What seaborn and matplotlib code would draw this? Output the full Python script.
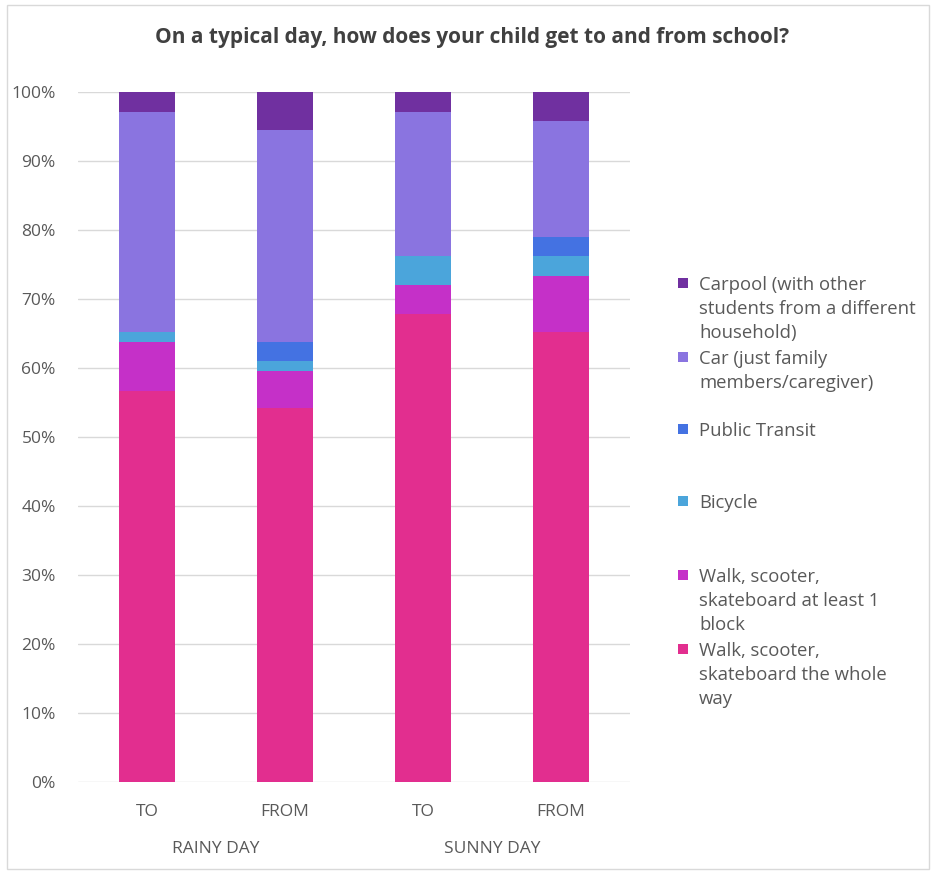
import matplotlib
matplotlib.use("Agg")
import matplotlib.pyplot as plt
import seaborn as sns
import pandas as pd
import numpy as np
from matplotlib.patches import Rectangle
from matplotlib.ticker import PercentFormatter
import matplotlib.transforms as mtransforms

# data (percent of responses)
bar_keys = ["RAINY TO", "RAINY FROM", "SUNNY TO", "SUNNY FROM"]
bar_labels = ["TO", "FROM", "TO", "FROM"]
group_labels = ["RAINY DAY", "SUNNY DAY"]
walk_whole = [56.7, 54.2, 67.8, 65.2]
walk_part = [7.0, 5.3, 4.3, 8.2]
bicycle = [1.5, 1.5, 4.2, 2.9]
transit = [0.0, 2.7, 0.0, 2.7]
car = [31.9, 30.8, 20.8, 16.8]
carpool = [2.9, 5.5, 2.9, 4.2]

series_names = [
    "Walk, scooter,\nskateboard the whole\nway",
    "Walk, scooter,\nskateboard at least 1\nblock",
    "Bicycle",
    "Public Transit",
    "Car (just family\nmembers/caregiver)",
    "Carpool (with other\nstudents from a different\nhousehold)",
]
series_values = [walk_whole, walk_part, bicycle, transit, car, carpool]
colors = ["#E22E8F", "#C530C8", "#4BA5DB", "#4472E2", "#8A74E0", "#7030A0"]

sns.set_theme(style="white")
plt.rcParams["font.family"] = ["Open Sans", "DejaVu Sans"]
text_color = "#595959"

fig = plt.figure(figsize=(9.36, 8.72), dpi=100)
ax = fig.add_axes([78 / 936, 1 - 782 / 872, 552 / 936, 690 / 872])

# stacked bars: draw cumulative totals from the top segment down
df = pd.DataFrame({"bar": bar_keys})
cum = np.cumsum(np.array(series_values), axis=0)
for i in range(len(series_values) - 1, -1, -1):
    df["val"] = cum[i] / 100.0
    sns.barplot(data=df, x="bar", y="val", order=bar_keys, color=colors[i],
                width=0.4, saturation=1, linewidth=0, ax=ax)

ax.set_ylim(0, 1)
ax.set_xlim(-0.5, 3.5)
ax.set_yticks(np.arange(0, 1.01, 0.1))
ax.yaxis.set_major_formatter(PercentFormatter(1.0, decimals=0))
ax.set_xticks(range(4))
ax.set_xticklabels(bar_labels)
ax.set_xlabel("")
ax.set_ylabel("")
ax.grid(axis="y", color="#D9D9D9", linewidth=1)
ax.set_axisbelow(True)
for s in ax.spines.values():
    s.set_visible(False)
ax.tick_params(axis="y", length=0, pad=16, labelsize=12.5, labelcolor=text_color)
ax.tick_params(axis="x", length=0, pad=16, labelsize=12.5, labelcolor=text_color)

# group labels under the category labels
trans = mtransforms.blended_transform_factory(ax.transData, ax.transAxes)
for j, g in enumerate(group_labels):
    ax.text(2 * j + 0.5, -67 / 690, g, transform=trans, ha="center", va="center",
            fontsize=12.5, color=text_color)

fig.text(472 / 936, 1 - 38 / 872, "On a typical day, how does your child get to and from school?",
         ha="center", va="center", fontsize=15, fontweight="bold", color="#404040")

# legend, top entry first
first_line_y = [649, 575, 501, 429, 357, 283]
for i in range(len(series_names)):
    y = first_line_y[i]
    fig.patches.append(Rectangle((678 / 936, 1 - (y + 5) / 872), 10 / 936, 10 / 872,
                                 transform=fig.transFigure, facecolor=colors[i],
                                 edgecolor="none"))
    fig.text(699 / 936, 1 - (y - 7) / 872, series_names[i], ha="left", va="top",
             fontsize=13.3, color=text_color, linespacing=1.42)

# outer chart border
fig.patches.append(Rectangle((7 / 936, 3 / 872), 922 / 936, 864 / 872,
                             transform=fig.transFigure, fill=False,
                             edgecolor="#D9D9D9", linewidth=1))

fig.savefig("out.png", dpi=100)
